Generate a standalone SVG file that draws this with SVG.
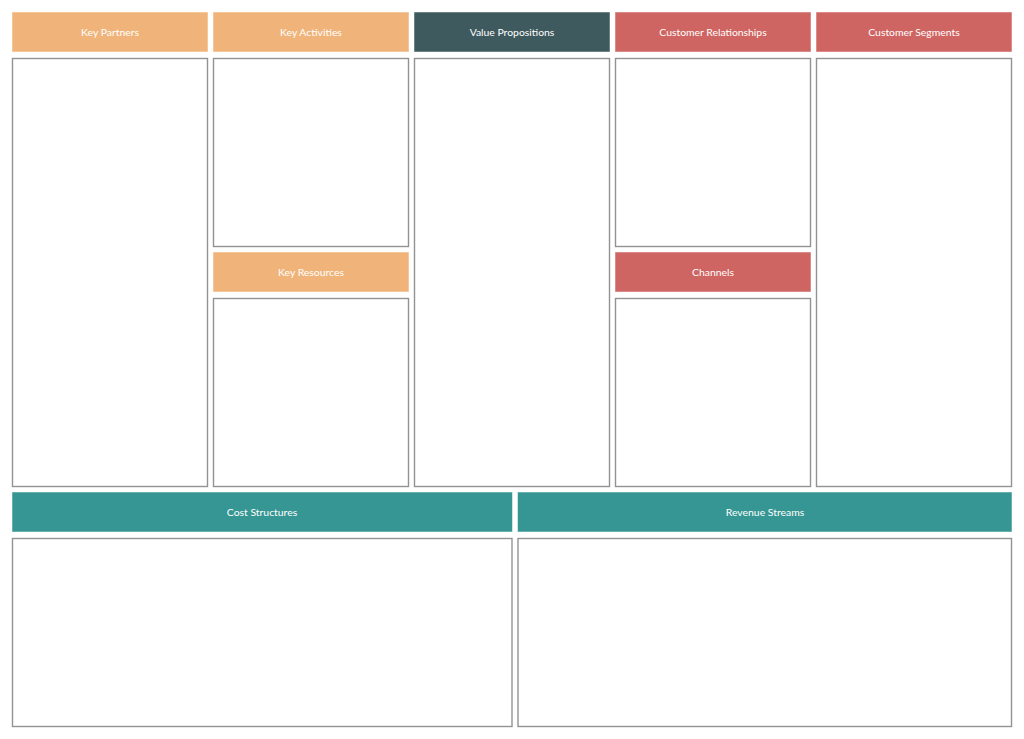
<svg xmlns="http://www.w3.org/2000/svg" width="1024" height="739" viewBox="0 0 1024 739">
<style>
.bg{fill:#ffffff}
.box{fill:#ffffff;stroke:#939393;stroke-width:1.4}
.hd{stroke:#ffffff;stroke-opacity:0.5;stroke-width:1}
.or{fill:#F0B47A}
.vp{fill:#3F5A5E}
.rd{fill:#CF6562}
.tl{fill:#369693}
.t{font-family:Lato,"Liberation Sans",sans-serif;font-size:10.4px;fill:#ffffff;text-anchor:middle;dominant-baseline:central}
</style>
<rect class="bg" x="0" y="0" width="1024" height="739"/>
<g id="key-partners">
<rect class="hd or" x="12" y="12" width="196" height="40"/>
<text class="t" x="110" y="32">Key Partners</text>
<rect class="box" x="12.5" y="58.5" width="195" height="428"/>
</g>
<g id="key-activities">
<rect class="hd or" x="213" y="12" width="196" height="40"/>
<text class="t" x="311" y="32">Key Activities</text>
<rect class="box" x="213.5" y="58.5" width="195" height="188"/>
</g>
<g id="key-resources">
<rect class="hd or" x="213" y="252" width="196" height="40"/>
<text class="t" x="311" y="272">Key Resources</text>
<rect class="box" x="213.5" y="298.5" width="195" height="188"/>
</g>
<g id="value-propositions">
<rect class="hd vp" x="414" y="12" width="196" height="40"/>
<text class="t" x="512" y="32">Value Propositions</text>
<rect class="box" x="414.5" y="58.5" width="195" height="428"/>
</g>
<g id="customer-relationships">
<rect class="hd rd" x="615" y="12" width="196" height="40"/>
<text class="t" x="713" y="32">Customer Relationships</text>
<rect class="box" x="615.5" y="58.5" width="195" height="188"/>
</g>
<g id="channels">
<rect class="hd rd" x="615" y="252" width="196" height="40"/>
<text class="t" x="713" y="272">Channels</text>
<rect class="box" x="615.5" y="298.5" width="195" height="188"/>
</g>
<g id="customer-segments">
<rect class="hd rd" x="816" y="12" width="196" height="40"/>
<text class="t" x="914" y="32">Customer Segments</text>
<rect class="box" x="816.5" y="58.5" width="195" height="428"/>
</g>
<g id="cost-structures">
<rect class="hd tl" x="12" y="492" width="500.5" height="40"/>
<text class="t" x="262" y="512">Cost Structures</text>
<rect class="box" x="12.5" y="538.5" width="499.5" height="188"/>
</g>
<g id="revenue-streams">
<rect class="hd tl" x="517.5" y="492" width="494.5" height="40"/>
<text class="t" x="765" y="512">Revenue Streams</text>
<rect class="box" x="518" y="538.5" width="493.5" height="188"/>
</g>
<g id="connectors"></g>
</svg>
